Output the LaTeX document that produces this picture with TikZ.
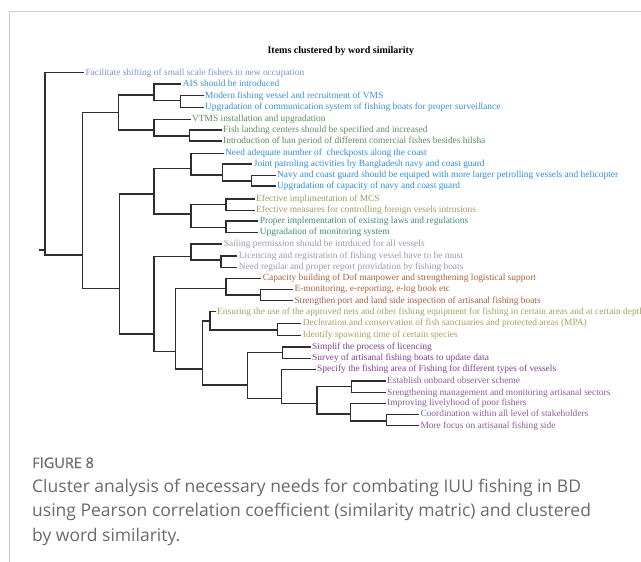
\documentclass[tikz,border=0pt]{standalone}
\usepackage{fontspec}
\setmainfont{Liberation Serif}
\newfontfamily\capfont{Open Sans}
\newfontfamily\capsemi[FakeBold=1.3]{Open Sans}

\definecolor{cperi}{HTML}{7F8FD6}
\definecolor{cblue}{HTML}{3A8FD6}
\definecolor{cblueb}{HTML}{2B8CE0}
\definecolor{cgreen}{HTML}{5A8C5A}
\definecolor{colive}{HTML}{9C9A62}
\definecolor{cteal}{HTML}{3E8C74}
\definecolor{cgrayv}{HTML}{9A98AA}
\definecolor{cbrown}{HTML}{A6603E}
\definecolor{ckhaki}{HTML}{A8A05E}
\definecolor{cpurple}{HTML}{7E3F8C}
\definecolor{cpurpleb}{HTML}{8A5A98}
\definecolor{edgecol}{HTML}{2E2E2E}
\definecolor{framecol}{HTML}{CCCCCC}
\definecolor{capcol}{HTML}{6A6A6A}
\definecolor{labcol}{HTML}{707070}

\tikzset{
  leaf/.style={anchor=west, inner xsep=2pt, inner ysep=0pt,
    text height=6.6pt, text depth=2pt,
    font=\fontsize{9.4}{11}\selectfont},
  edge/.style={draw=edgecol, line width=1.1pt, line join=miter, line cap=rect},
  framerule/.style={draw=framecol, line width=1pt},
  titletext/.style={anchor=base, inner sep=0pt, font=\fontsize{10}{12}\selectfont\bfseries},
  figlabel/.style={anchor=base west, inner sep=0pt, text=labcol,
    font=\capsemi\fontsize{14.5}{17}\selectfont},
  captext/.style={anchor=base west, inner sep=0pt, text=capcol,
    font=\capfont\fontsize{17.5}{24.5}\selectfont, align=left}
}

\begin{document}
\begin{tikzpicture}[x=1pt, y=-1pt]
\useasboundingbox (0,0) rectangle (641,562);

% page frame
\draw[framerule] (9.3,562) -- (9.3,11) -- (641,11);

% heading
\node[titletext] (title) at (340.8,53) {Items clustered by word similarity};

% leaves
\node[leaf, text=cperi]   (l1)  at (83.3,72.7)  {Facilitate shifting of small scale fishers to new occupation};
\node[leaf, text=cblue]   (l2)  at (180.7,84)   {AIS should be introduced};
\node[leaf, text=cblue]   (l3)  at (203,95.7)   {Modern fishing vessel and recruitment of VMS};
\node[leaf, text=cblue]   (l4)  at (203,107.3)  {Upgradation of communication system of fishing boats for proper surveillance};
\node[leaf, text=cgreen]  (l5)  at (190,119.3)  {VTMS installation and upgradation};
\node[leaf, text=cgreen]  (l6)  at (221,130)    {Fish landing centers should be specified and increased};
\node[leaf, text=cgreen]  (l7)  at (221,141)    {Introduction of ban period of different comercial fishes besides hilsha};
\node[leaf, text=cblueb]  (l8)  at (223,153.5)  {Need adequate number of\ \ checkposts along the coast};
\node[leaf, text=cblueb]  (l9)  at (251.7,164)  {Joint patroling activities by Bangladesh navy and coast guard};
\node[leaf, text=cblueb]  (l10) at (275,175.3)  {Navy and coast guard should be equiped with more larger petrolling vessels and helicopter};
\node[leaf, text=cblueb]  (l11) at (275,186)    {Upgradation of capacity of navy and coast guard};
\node[leaf, text=colive]  (l12) at (254,199)    {Efective implimentation of MCS};
\node[leaf, text=colive]  (l13) at (254,210.5)  {Efective measures for controlling foreign vesels intrusions};
\node[leaf, text=cteal]   (l14) at (257.7,221)  {Proper implementation of existing laws and regulations};
\node[leaf, text=cteal]   (l15) at (257.7,232.5){Upgradation of monitoring system};
\node[leaf, text=cgrayv]  (l16) at (221.7,244)  {Sailing permission should be intrduced for all vessels};
\node[leaf, text=cgrayv]  (l17) at (236.7,256)  {Licencing and registration of fishing vessel have to be must};
\node[leaf, text=cgrayv]  (l18) at (236.7,267.3){Need regular and proper report providation by fishing boats};
\node[leaf, text=cbrown]  (l19) at (260.7,278.3){Capacity building of Dof manpower and strengthening logistical support};
\node[leaf, text=cbrown]  (l20) at (292.3,289.3){E-monitoring, e-reporting, e-log book etc};
\node[leaf, text=cbrown]  (l21) at (292.3,300.7){Strengthen port and land side inspection of artisanal fishing boats};
\node[leaf, text=ckhaki]  (l22) at (215,311.7)  {Ensuring the use of the approved nets and other fishing equipment for fishing in certain areas and at certain depth};
\node[leaf, text=ckhaki]  (l23) at (300.7,323.3){Decleration and conservation of fish sanctuaries and protected areas (MPA)};
\node[leaf, text=ckhaki]  (l24) at (300.7,335.5){Identify spawning time of certain species};
\node[leaf, text=cpurple] (l25) at (310,347)    {Simplif the process of licencing};
\node[leaf, text=cpurple] (l26) at (310,358.3)  {Survey of artisanal fishing boats to update data};
\node[leaf, text=cpurple] (l27) at (315,369.3)  {Specify the fishing area of Fishing for different types of vessels};
\node[leaf, text=cpurpleb](l28) at (385,381)    {Establish onboard observer scheme};
\node[leaf, text=cpurpleb](l29) at (385,392.7)  {Srengthening management and monitoring artisanal sectors};
\node[leaf, text=cpurpleb](l30) at (385,403.3)  {Improving livelyhood of poor fishers};
\node[leaf, text=cpurpleb](l31) at (418.3,414.3){Coordination within all level of stakeholders};
\node[leaf, text=cpurpleb](l32) at (418.3,425.7){More focus on artisanal fishing side};

% merge points: x = merge level, y = where the parent link attaches
\coordinate (stub) at (40,250);
\coordinate (R)  at (45,250);
\coordinate (A)  at (82.3,255);
\coordinate (B)  at (118.3,112.7);
\coordinate (D)  at (154,95);
\coordinate (F)  at (180.7,100.7);
\coordinate (E)  at (154,130);
\coordinate (G)  at (189.3,136);
\coordinate (C)  at (119.3,288.3);
\coordinate (H)  at (154,194);
\coordinate (J)  at (191,168.3);
\coordinate (L)  at (222.7,175);
\coordinate (M)  at (251.7,181);
\coordinate (K)  at (191,214);
\coordinate (N)  at (226,204.5);
\coordinate (O)  at (226,227.3);
\coordinate (I)  at (154,334);
\coordinate (P)  at (191,256.7);
\coordinate (S)  at (221,260);
\coordinate (Q)  at (175.7,351.7);
\coordinate (T)  at (226,288.3);
\coordinate (V)  at (260.7,295);
\coordinate (U)  at (202.7,369);
\coordinate (W)  at (210,321);
\coordinate (Y)  at (277.3,330);
\coordinate (X)  at (247.3,385);
\coordinate (Z)  at (282.3,352.7);
\coordinate (AA) at (281.7,398.3);
\coordinate (AB) at (317,403.3);
\coordinate (AC) at (351.7,386.7);
\coordinate (AD) at (350.7,414);
\coordinate (AE) at (386.7,421);

% elbow links: child one -- level -- child two
\draw[edge] (stub) -- (R);
\draw[edge] (l1.west)  -- (l1.west -| R)  -- (A -| R)   -- (A);
\draw[edge] (B)        -- (B -| A)        -- (C -| A)   -- (C);
\draw[edge] (D)        -- (D -| B)        -- (E -| B)   -- (E);
\draw[edge] (l2.west)  -- (l2.west -| D)  -- (F -| D)   -- (F);
\draw[edge] (l3.west)  -- (l3.west -| F)  -- (l4.west -| F) -- (l4.west);
\draw[edge] (l5.west)  -- (l5.west -| E)  -- (G -| E)   -- (G);
\draw[edge] (l6.west)  -- (l6.west -| G)  -- (l7.west -| G) -- (l7.west);
\draw[edge] (H)        -- (H -| C)        -- (I -| C)   -- (I);
\draw[edge] (J)        -- (J -| H)        -- (K -| H)   -- (K);
\draw[edge] (l8.west)  -- (l8.west -| J)  -- (L -| J)   -- (L);
\draw[edge] (l9.west)  -- (l9.west -| L)  -- (M -| L)   -- (M);
\draw[edge] (l10.west) -- (l10.west -| M) -- (l11.west -| M) -- (l11.west);
\draw[edge] (N)        -- (N -| K)        -- (O -| K)   -- (O);
\draw[edge] (l12.west) -- (l12.west -| N) -- (l13.west -| N) -- (l13.west);
\draw[edge] (l14.west) -- (l14.west -| O) -- (l15.west -| O) -- (l15.west);
\draw[edge] (P)        -- (P -| I)        -- (Q -| I)   -- (Q);
\draw[edge] (l16.west) -- (l16.west -| P) -- (S -| P)   -- (S);
\draw[edge] (l17.west) -- (l17.west -| S) -- (l18.west -| S) -- (l18.west);
\draw[edge] (T)        -- (T -| Q)        -- (U -| Q)   -- (U);
\draw[edge] (l19.west) -- (l19.west -| T) -- (V -| T)   -- (V);
\draw[edge] (l20.west) -- (l20.west -| V) -- (l21.west -| V) -- (l21.west);
\draw[edge] (W)        -- (W -| U)        -- (X -| U)   -- (X);
\draw[edge] (l22.west) -- (l22.west -| W) -- (Y -| W)   -- (Y);
\draw[edge] (l23.west) -- (l23.west -| Y) -- (l24.west -| Y) -- (l24.west);
\draw[edge] (Z)        -- (Z -| X)        -- (AA -| X)  -- (AA);
\draw[edge] (l25.west) -- (l25.west -| Z) -- (l26.west -| Z) -- (l26.west);
\draw[edge] (l27.west) -- (l27.west -| AA) -- (AB -| AA) -- (AB);
\draw[edge] (AC)       -- (AC -| AB)      -- (AD -| AB) -- (AD);
\draw[edge] (l28.west) -- (l28.west -| AC) -- (l29.west -| AC) -- (l29.west);
\draw[edge] (l30.west) -- (l30.west -| AD) -- (AE -| AD) -- (AE);
\draw[edge] (l31.west) -- (l31.west -| AE) -- (l32.west -| AE) -- (l32.west);

% caption
\node[figlabel] (fig) at (32,468) {FIGURE 8};
\node[captext] (cap1) at (32,492) {Cluster analysis of necessary needs for combating IUU fishing in BD};
\node[captext] (cap2) at (32,516.5) {using Pearson correlation coefficient (similarity matric) and clustered};
\node[captext] (cap3) at (32,541) {by word similarity.};
\end{tikzpicture}
\end{document}
